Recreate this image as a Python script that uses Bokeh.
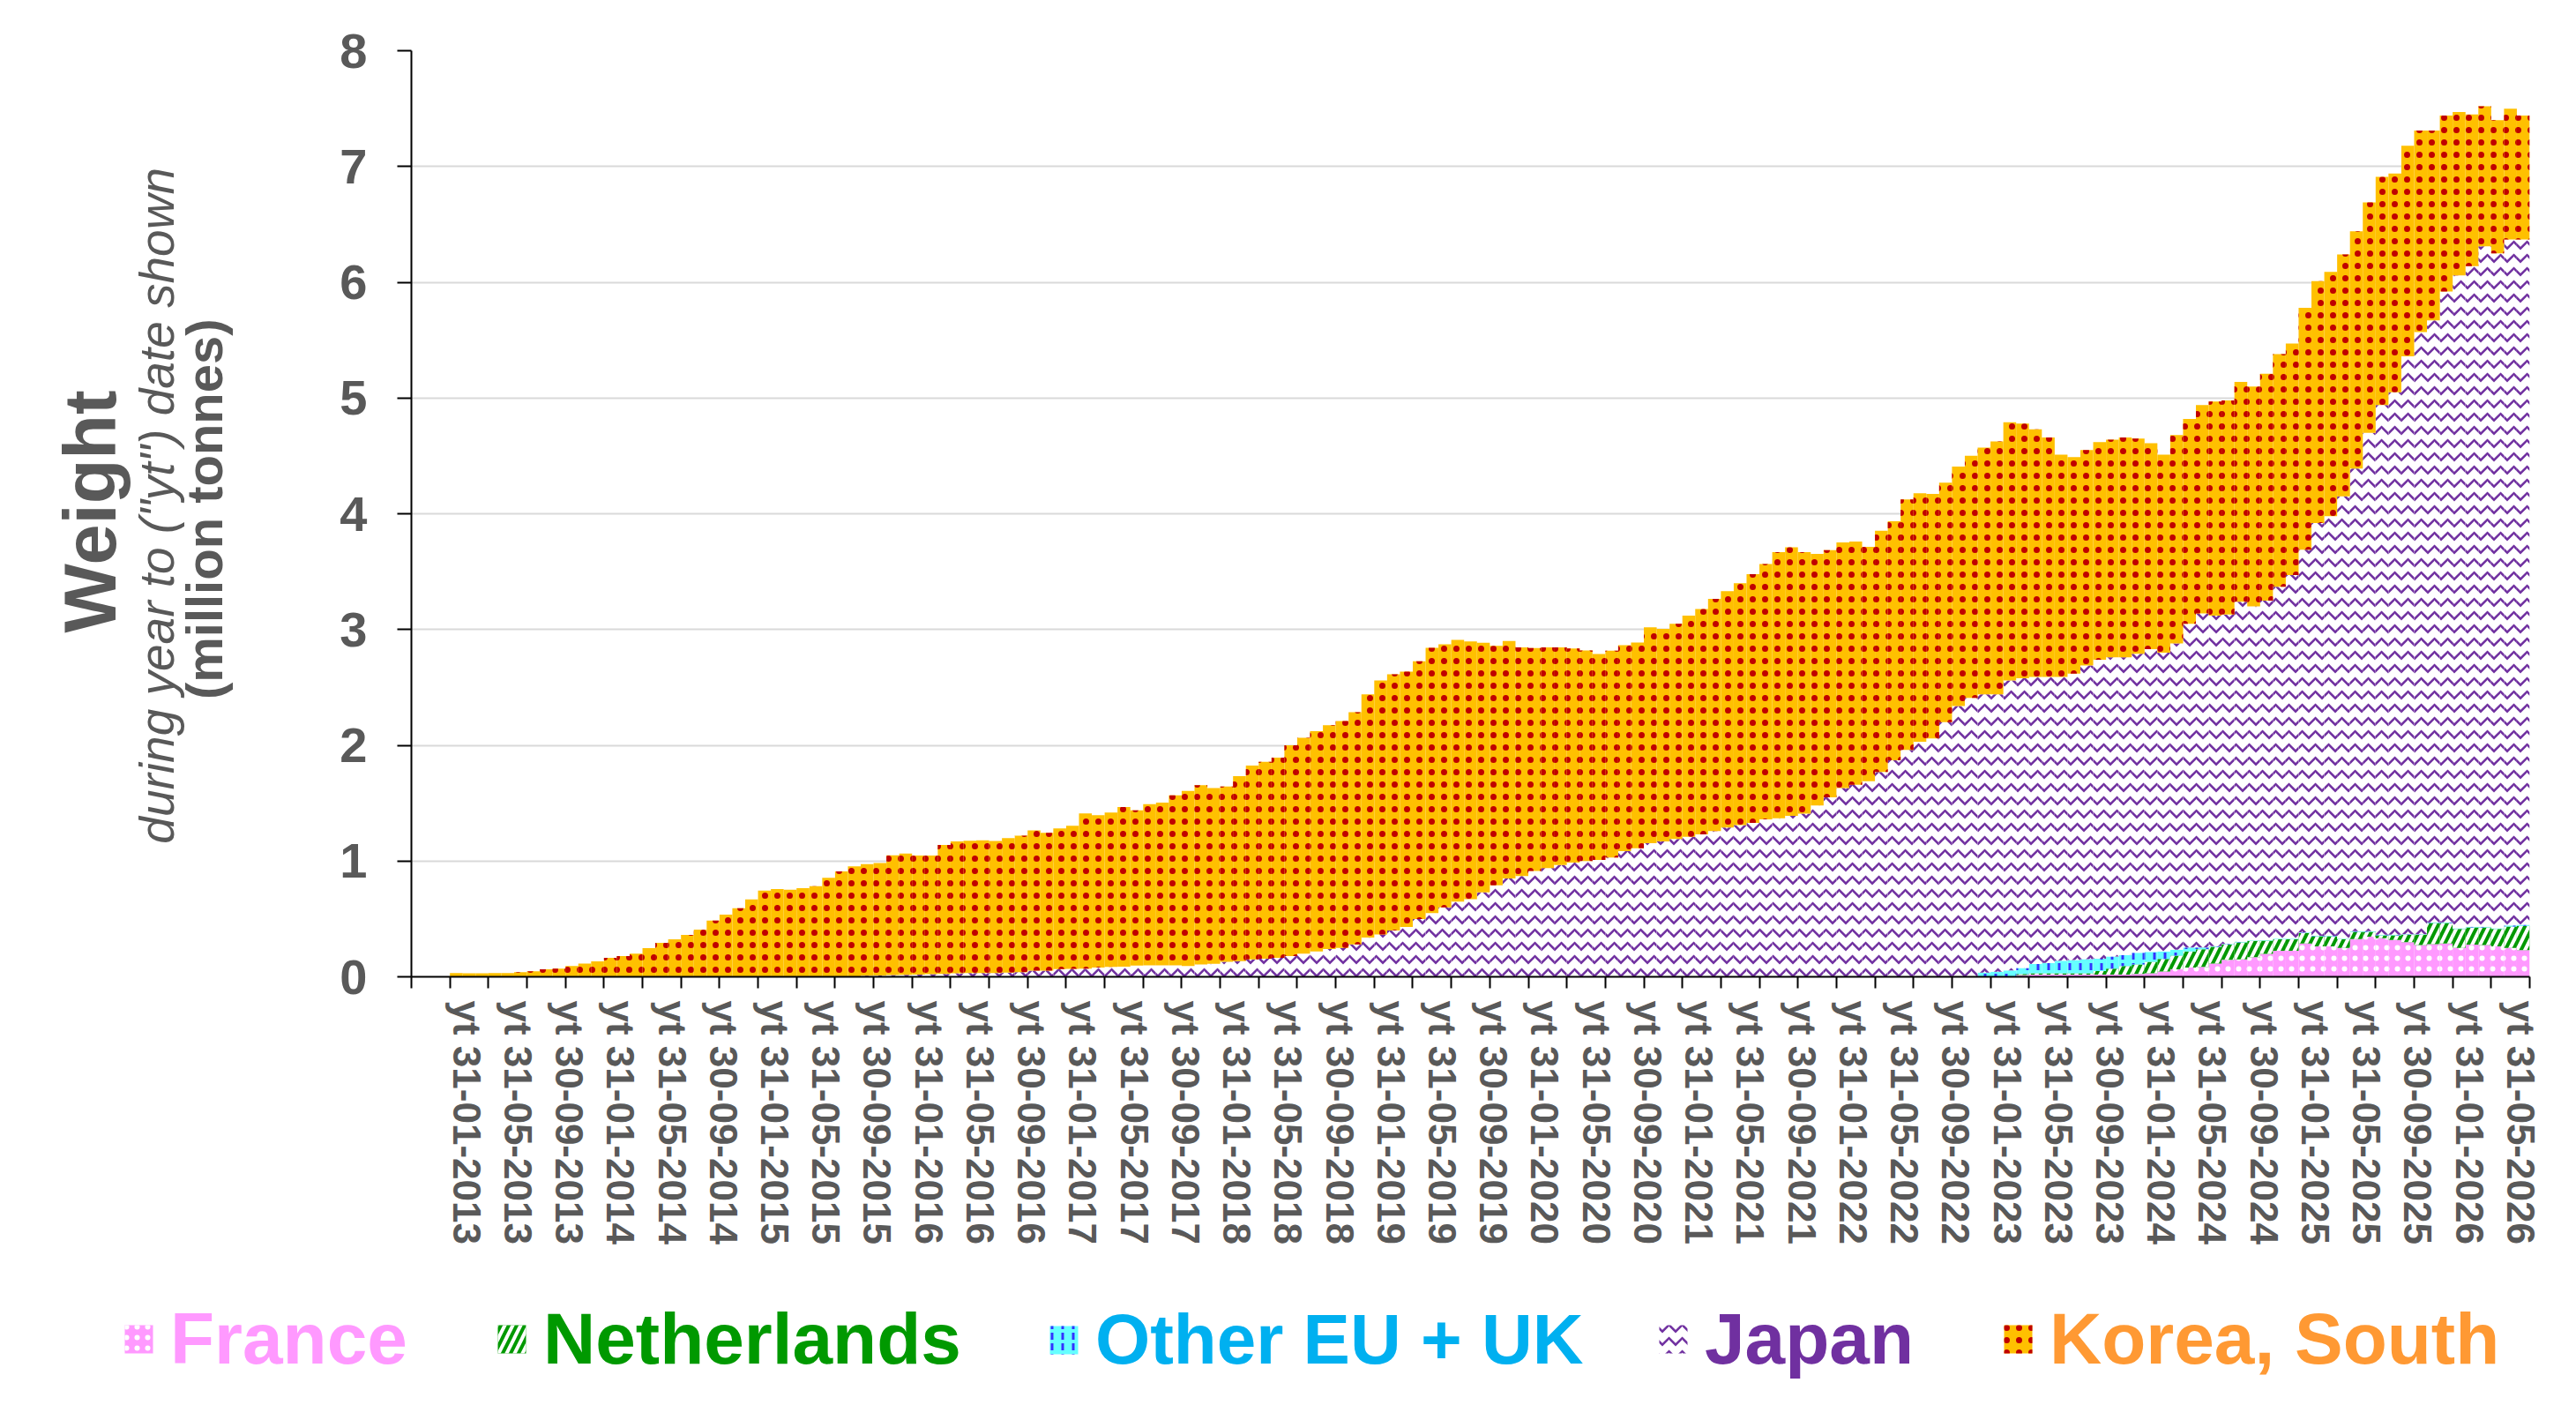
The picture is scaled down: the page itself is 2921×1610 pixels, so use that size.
import math
import pandas as pd
from bokeh.plotting import figure
from bokeh.layouts import column, row
from bokeh.models import Range1d, FixedTicker, Label, Legend, LegendItem, ColumnDataSource
from bokeh.embed import file_html
from bokeh.resources import INLINE

# ---------------- data (million tonnes, year-to-date totals, monthly) ----------------
months = pd.date_range("2013-01-31", periods=162, freq="ME")   # Jan 2013 .. Jun 2026
LEAD = 3   # empty category slots before the first month on the axis

france = [
    0, 0, 0, 0, 0, 0, 0, 0, 0, 0, 0, 0,
    0, 0, 0, 0, 0, 0, 0, 0, 0, 0, 0, 0,
    0, 0, 0, 0, 0, 0, 0, 0, 0, 0, 0, 0,
    0, 0, 0, 0, 0, 0, 0, 0, 0, 0, 0, 0,
    0, 0, 0, 0, 0, 0, 0, 0, 0, 0, 0, 0,
    0, 0, 0, 0, 0, 0, 0, 0, 0, 0, 0, 0,
    0, 0, 0, 0, 0, 0, 0, 0, 0, 0, 0, 0,
    0, 0, 0, 0, 0, 0, 0, 0, 0, 0, 0, 0,
    0, 0, 0, 0, 0, 0, 0, 0, 0, 0, 0, 0,
    0, 0, 0, 0, 0, 0, 0, 0, 0, 0, 0, 0,
    0, 0, 0.015, 0.02, 0.02, 0.02, 0.02, 0.02, 0.02, 0.02, 0.02, 0.025,
    0.03, 0.045, 0.065, 0.08, 0.085, 0.115, 0.147, 0.15, 0.17, 0.198, 0.224, 0.224,
    0.287, 0.262, 0.262, 0.249, 0.325, 0.346, 0.333, 0.318, 0.30, 0.274, 0.282, 0.287,
    0.249, 0.279, 0.274, 0.262, 0.249, 0.231,
]

netherlands = [
    0, 0, 0, 0, 0, 0, 0, 0, 0, 0, 0, 0,
    0, 0, 0, 0, 0, 0, 0, 0, 0, 0, 0, 0,
    0, 0, 0, 0, 0, 0, 0, 0, 0, 0, 0, 0,
    0, 0, 0, 0, 0, 0, 0, 0, 0, 0, 0, 0,
    0, 0, 0, 0, 0, 0, 0, 0, 0, 0, 0, 0,
    0, 0, 0, 0, 0, 0, 0, 0, 0, 0, 0, 0,
    0, 0, 0, 0, 0, 0, 0, 0, 0, 0, 0, 0,
    0, 0, 0, 0, 0, 0, 0, 0, 0, 0, 0, 0,
    0, 0, 0, 0, 0, 0, 0, 0, 0, 0, 0, 0,
    0, 0, 0, 0, 0, 0, 0, 0, 0, 0, 0, 0,
    0, 0, 0.01, 0.01, 0.01, 0.01, 0.01, 0.01, 0.03, 0.05, 0.074, 0.082,
    0.10, 0.11, 0.118, 0.14, 0.154, 0.144, 0.132, 0.147, 0.14, 0.114, 0.10, 0.10,
    0.09, 0.088, 0.088, 0.076, 0.064, 0.043, 0.025, 0.04, 0.063, 0.089, 0.183, 0.178,
    0.165, 0.148, 0.153, 0.152, 0.185, 0.209,
]

other_eu_uk = [
    0, 0, 0, 0, 0, 0, 0, 0, 0, 0, 0, 0,
    0, 0, 0, 0, 0, 0, 0, 0, 0, 0, 0, 0,
    0, 0, 0, 0, 0, 0, 0, 0, 0, 0, 0, 0,
    0, 0, 0, 0, 0, 0, 0, 0, 0, 0, 0, 0,
    0, 0, 0, 0, 0, 0, 0, 0, 0, 0, 0, 0,
    0, 0, 0, 0, 0, 0, 0, 0, 0, 0, 0, 0,
    0, 0, 0, 0, 0, 0, 0, 0, 0, 0, 0, 0,
    0, 0, 0, 0, 0, 0, 0, 0, 0, 0, 0, 0,
    0, 0, 0, 0, 0, 0, 0, 0, 0, 0, 0, 0,
    0, 0, 0, 0, 0, 0, 0, 0, 0, 0, 0, 0.036,
    0.043, 0.056, 0.051, 0.08, 0.09, 0.11, 0.115, 0.122, 0.107, 0.105, 0.094, 0.10,
    0.086, 0.065, 0.051, 0.034, 0.015, 0.006, 0.005, 0.005, 0.005, 0.005, 0.005, 0.005,
    0.005, 0.005, 0.005, 0.005, 0.005, 0.005, 0.005, 0.005, 0.005, 0.005, 0.005, 0.005,
    0.005, 0.005, 0.005, 0.005, 0.01, 0.01,
]

japan = [
    0, 0, 0, 0, 0, 0, 0, 0, 0, 0, 0, 0,
    0, 0, 0, 0, 0, 0, 0, 0, 0, 0, 0, 0,
    0, 0, 0, 0, 0, 0, 0, 0, 0.01, 0.012, 0.015, 0.018,
    0.02, 0.022, 0.025, 0.03, 0.033, 0.033, 0.033, 0.036, 0.04, 0.053, 0.053, 0.066,
    0.068, 0.07, 0.08, 0.085, 0.087, 0.097, 0.10, 0.10, 0.10, 0.094, 0.107, 0.112,
    0.13, 0.135, 0.15, 0.157, 0.163, 0.18, 0.20, 0.22, 0.24, 0.25, 0.28, 0.34,
    0.366, 0.40, 0.43, 0.50, 0.55, 0.60, 0.65, 0.67, 0.73, 0.79, 0.85, 0.87,
    0.915, 0.94, 0.966, 0.986, 1.0, 1.01, 1.03, 1.085, 1.11, 1.155, 1.17, 1.19,
    1.21, 1.23, 1.26, 1.29, 1.31, 1.33, 1.36, 1.37, 1.39, 1.41, 1.48, 1.55,
    1.63, 1.66, 1.69, 1.77, 1.87, 1.96, 2.03, 2.06, 2.20, 2.34, 2.41, 2.404,
    2.397, 2.504, 2.504, 2.48, 2.47, 2.45, 2.475, 2.538, 2.583, 2.585, 2.572, 2.583,
    2.614, 2.58, 2.646, 2.796, 2.886, 2.855, 2.846, 2.938, 2.885, 2.933, 3.041, 3.141,
    3.308, 3.565, 3.625, 3.82, 3.996, 4.306, 4.577, 4.687, 4.992, 5.202, 5.20, 5.45,
    5.641, 5.708, 5.878, 5.831, 5.926, 5.92,
]

korea = [
    0.033, 0.03, 0.03, 0.033, 0.033, 0.04, 0.048, 0.064, 0.071, 0.094, 0.115, 0.133,
    0.163, 0.179, 0.20, 0.247, 0.293, 0.324, 0.362, 0.408, 0.485, 0.538, 0.592, 0.668,
    0.745, 0.758, 0.753, 0.765, 0.783, 0.855, 0.91, 0.954, 0.964, 0.97, 1.035, 1.046,
    1.028, 1.026, 1.115, 1.14, 1.142, 1.147, 1.14, 1.162, 1.179, 1.212, 1.191, 1.216,
    1.237, 1.342, 1.317, 1.335, 1.379, 1.341, 1.391, 1.404, 1.467, 1.512, 1.549, 1.519,
    1.514, 1.598, 1.674, 1.701, 1.73, 1.82, 1.864, 1.902, 1.933, 1.959, 2.005, 2.10,
    2.194, 2.213, 2.206, 2.225, 2.292, 2.273, 2.261, 2.228, 2.156, 2.069, 2.051, 1.975,
    1.925, 1.905, 1.879, 1.851, 1.82, 1.779, 1.787, 1.78, 1.777, 1.865, 1.836, 1.86,
    1.91, 1.947, 2.005, 2.042, 2.09, 2.149, 2.206, 2.298, 2.32, 2.258, 2.174, 2.135,
    2.122, 2.10, 2.025, 2.084, 2.065, 2.164, 2.147, 2.112, 2.068, 2.068, 2.091, 2.132,
    2.185, 2.23, 2.20, 2.14, 2.07, 1.92, 1.87, 1.86, 1.88, 1.88, 1.90, 1.86,
    1.78, 1.71, 1.80, 1.77, 1.80, 1.85, 1.85, 1.90, 1.90, 1.96, 2.01, 2.00,
    2.09, 2.09, 2.11, 2.09, 2.05, 1.99, 1.97, 1.89, 1.82, 1.74, 1.64, 1.52,
    1.41, 1.31, 1.21, 1.15, 1.13, 1.07,
]

series_names = ["France", "Netherlands", "Other EU + UK", "Japan", "Korea, South"]
series_keys = ["fr", "nl", "oth", "jp", "kr"]
y_ticks = [0, 1, 2, 3, 4, 5, 6, 7, 8]
y_title = ["Weight", 'during year to ("yt") date shown', "(million tonnes)"]

# ---------------- styles ----------------
FONT = "Liberation Sans"
GREY = "#595959"
fills = ["#FF99FF", "#009900", "#66FFFF", "#FFFFFF", "#FFC000"]
hatches = ["dot", "right_diagonal_line", "vertical_dash", "horizontal_wave", "dot"]
hatch_cols = ["#FFFFFF", "#FFFFFF", "#3333FF", "#7030A0", "#C00000"]
hatch_scales = [12, 18, 12, 15, 14]
hatch_weights = [1, 4, 3, 2.5, 1]
text_cols = ["#FF99FF", "#009900", "#00B0F0", "#7030A0", "#FF9933"]

TOTAL_W = 2913
TITLE_W = 300
MAIN_H = 1448
LEG_H = 154

n = len(months)
xpos = [LEAD + i + 0.5 for i in range(n)]
src = ColumnDataSource(dict(x=xpos, fr=france, nl=netherlands, oth=other_eu_uk,
                            jp=japan, kr=korea))

# ---------------- main chart ----------------
p = figure(width=TOTAL_W - TITLE_W, height=MAIN_H, output_backend="svg",
           toolbar_location=None,
           x_range=Range1d(0, LEAD + n), y_range=Range1d(0, 8),
           min_border_left=166, min_border_right=45, min_border_top=57,
           min_border_bottom=341)
p.outline_line_color = None
p.background_fill_color = "white"
p.border_fill_color = "white"

renderers = p.vbar_stack(series_keys, x="x", width=1.0, source=src,
                         fill_color=fills, line_color=None,
                         hatch_pattern=hatches, hatch_color=hatch_cols,
                         hatch_scale=hatch_scales, hatch_weight=hatch_weights)

LABEL_SHIFT = 0.8
label_pos = [round(LEAD + i + 0.5 + LABEL_SHIFT, 3) for i in range(0, n, 4)]
label_txt = {round(LEAD + i + 0.5 + LABEL_SHIFT, 3): "yt " + months[i].strftime("%d-%m-%Y")
             for i in range(0, n, 4)}
xa = p.xaxis[0]
xa.ticker = FixedTicker(ticks=label_pos, minor_ticks=list(range(0, LEAD + n + 1, 3)))
xa.major_label_overrides = label_txt
xa.major_tick_line_color = None
xa.major_tick_out = 0
xa.major_tick_in = 0
xa.minor_tick_line_color = "black"
xa.minor_tick_line_width = 2
xa.minor_tick_out = 13
xa.minor_tick_in = 0
xa.major_label_orientation = -math.pi / 2
xa.major_label_standoff = 14
xa.major_label_text_font = FONT
xa.major_label_text_font_style = "bold"
xa.major_label_text_font_size = "44px"
xa.major_label_text_color = GREY
xa.axis_line_color = "black"
xa.axis_line_width = 2

ya = p.yaxis[0]
ya.ticker = FixedTicker(ticks=y_ticks)
ya.major_tick_out = 16
ya.major_tick_in = 0
ya.major_tick_line_width = 2
ya.major_tick_line_color = "black"
ya.minor_tick_line_color = None
ya.major_label_standoff = 34
ya.major_label_text_font = FONT
ya.major_label_text_font_style = "bold"
ya.major_label_text_font_size = "56px"
ya.major_label_text_color = GREY
ya.axis_line_color = "black"
ya.axis_line_width = 2

p.xgrid.visible = False
p.ygrid.grid_line_color = "#D9D9D9"
p.ygrid.grid_line_width = 2

# ---------------- y-axis title panel (three differently styled lines) ----------------
# its frame is aligned with the main frame by the row layout, so it shares the value scale
tp = figure(width=TITLE_W, height=MAIN_H, output_backend="svg", toolbar_location=None,
            x_range=Range1d(0, TITLE_W), y_range=Range1d(0, 8),
            x_axis_type=None, y_axis_type=None, min_border=0)
tp.outline_line_color = None
tp.xgrid.visible = False
tp.ygrid.visible = False
title_x = [102, 177, 231]
title_y = [4.02, 4.07, 4.04]
title_sizes = ["83px", "55px", "58px"]
title_styles = ["bold", "italic", "bold"]
for txt, tx, ty, fs, st in zip(y_title, title_x, title_y, title_sizes, title_styles):
    tp.add_layout(Label(x=tx, y=ty, text=txt, angle=math.pi / 2,
                        text_align="center", text_baseline="middle",
                        text_font=FONT, text_font_size=fs, text_font_style=st,
                        text_color=GREY))

# ---------------- legend panel ----------------
lp = figure(width=TOTAL_W, height=LEG_H, output_backend="svg", toolbar_location=None,
            x_range=Range1d(0, TOTAL_W), y_range=Range1d(0, LEG_H),
            x_axis_type=None, y_axis_type=None, min_border=0)
lp.outline_line_color = None
lp.xgrid.visible = False
lp.ygrid.visible = False
legend_x = [137, 560, 1186, 1877, 2268]
legend_sizes = ["82px", "82px", "80px", "82px", "82px"]
for i, (name, lx, col) in enumerate(zip(series_names, legend_x, text_cols)):
    # zero-height proxy bar outside the visible range: only its style is used by the legend
    swatch = lp.vbar(x=[-1000], top=[0], width=1, fill_color=fills[i], line_color=None,
                     hatch_pattern=hatches[i], hatch_color=hatch_cols[i],
                     hatch_scale=hatch_scales[i], hatch_weight=hatch_weights[i])
    lg = Legend(items=[LegendItem(label=name, renderers=[swatch])], location=(lx, 37),
                orientation="horizontal", label_text_font=FONT,
                label_text_font_size=legend_sizes[i], label_text_font_style="bold",
                label_text_color=col, glyph_width=40, glyph_height=40,
                label_standoff=16, padding=0, margin=0, spacing=0,
                border_line_color=None, background_fill_alpha=0, label_height=40)
    lp.add_layout(lg, "center")

layout = column(row(tp, p), lp)
open("out.html", "w").write(file_html(layout, INLINE))
